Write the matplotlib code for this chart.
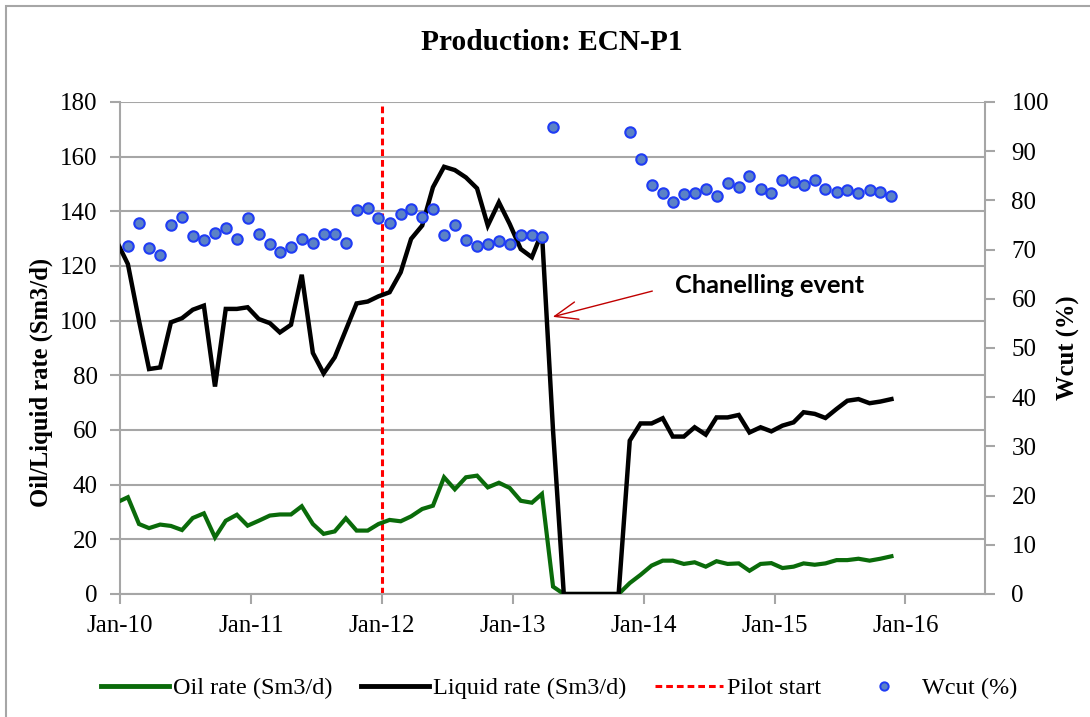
import numpy as np
import pandas as pd
import matplotlib
matplotlib.use("Agg")
import matplotlib.pyplot as plt
import matplotlib.dates as mdates
from matplotlib.lines import Line2D
from matplotlib.patches import Rectangle

# --- DATA (monthly, Dec-09 .. Nov-15) ---
dates = pd.date_range("2009-12-01", periods=72, freq="MS") + pd.Timedelta(days=22)

liquid_rate = [129.0,
               120.7, 100.0, 82.3, 82.9, 99.4, 100.9, 104.0, 105.5, 75.9, 104.3, 104.3, 104.9,
               100.6, 99.1, 95.7, 98.5, 116.8, 88.2, 80.7, 86.6, 96.6, 106.3, 107.0, 108.9,
               110.4, 117.7, 129.9, 134.8, 148.8, 156.3, 155.1, 152.4, 148.4, 134.8, 143.3, 135.4,
               126.2, 123.2, 132.3, 59.8, 0, 0, 0, 0, 0, 0,
               56.1, 62.4, 62.4, 64.3, 57.6, 57.6, 61.0, 58.3, 64.6, 64.6, 65.5, 59.1,
               61.0, 59.5, 61.6, 62.8, 66.5, 65.9, 64.4, 67.7, 70.7, 71.3, 69.8, 70.4, 71.3]

oil_rate = [33.5,
            35.4, 25.6, 24.1, 25.4, 24.9, 23.4, 27.8, 29.5, 20.7, 26.8, 29.0, 25.0,
            26.8, 28.7, 29.1, 29.1, 32.1, 25.6, 22.0, 22.9, 27.7, 23.2, 23.2, 25.6,
            27.1, 26.6, 28.4, 31.1, 32.3, 42.7, 38.3, 42.7, 43.3, 39.0, 40.7, 38.8,
            34.1, 33.4, 36.6, 2.7, 0, 0, 0, 0, 0, 0,
            4.0, 7.0, 10.4, 12.2, 12.2, 11.0, 11.6, 10.0, 12.0, 11.0, 11.2, 8.5,
            11.0, 11.3, 9.5, 10.0, 11.2, 10.7, 11.2, 12.4, 12.4, 12.9, 12.2, 12.9, 13.8]

nan = np.nan
wcut = [nan,
        70.7, 75.4, 70.3, 68.9, 74.9, 76.7, 72.7, 71.9, 73.4, 74.4, 72.1, 76.5,
        73.2, 71.1, 69.6, 70.6, 72.2, 71.4, 73.2, 73.2, 71.3, 78.1, 78.4, 76.5,
        75.4, 77.2, 78.2, 76.7, 78.2, 72.9, 75.1, 72.0, 70.8, 71.2, 71.7, 71.2,
        73.0, 73.0, 72.5, 94.9, nan, nan, nan, nan, nan, nan,
        94.0, 88.4, 83.1, 81.6, 79.7, 81.4, 81.6, 82.3, 80.9, 83.5, 82.7, 84.9,
        82.3, 81.5, 84.2, 83.8, 83.1, 84.1, 82.3, 81.8, 82.2, 81.5, 82.2, 81.7, 80.8]

pilot_start = pd.Timestamp("2012-01-01")
year_ticks = pd.date_range("2010-01-01", "2016-01-01", freq="YS")

# --- STYLE ---
plt.rcParams["font.family"] = ["Liberation Serif", "DejaVu Serif"]
grid_col = "#a6a6a6"
green = "#0a6b0a"
fs = 18

fig = plt.figure(figsize=(10.9, 7.17), dpi=100)
ax = fig.add_axes([120 / 1090, 1 - 594 / 717, 865 / 1090, 492 / 717])
ax2 = ax.twinx()

ax.plot(dates, oil_rate, color=green, lw=3, solid_joinstyle="miter", zorder=3)
ax.plot(dates, liquid_rate, color="black", lw=3.2, solid_joinstyle="miter", zorder=3)
ax.vlines(pilot_start, 0, 180, colors="#ff0000", linestyles=(0, (2.2, 1.3)), lw=2.2, zorder=2)
ax2.plot(dates, wcut, ls="none", marker="o", ms=7.5, mfc="#5b82c6", mec="#1f3cf5", mew=1.5)

ax.set_xlim(pd.Timestamp("2010-01-01"), pd.Timestamp("2016-08-10"))
ax.set_ylim(0, 180)
ax2.set_ylim(0, 100)
ax.set_yticks(np.arange(0, 181, 20))
ax2.set_yticks(np.arange(0, 101, 10))
ax.set_xticks(year_ticks)
ax.xaxis.set_major_formatter(mdates.DateFormatter("%b-%y"))

ax.grid(True, axis="y", color=grid_col, lw=1.5)
ax.set_axisbelow(True)
for a in (ax, ax2):
    for s in a.spines.values():
        s.set_visible(False)
ax.spines["left"].set_visible(True)
ax.spines["bottom"].set_visible(True)
ax2.spines["right"].set_visible(True)
for s in (ax.spines["left"], ax.spines["bottom"], ax2.spines["right"]):
    s.set_color(grid_col)
    s.set_linewidth(1.5)

ax.tick_params(axis="y", length=7, width=1.5, color=grid_col, labelsize=fs, pad=9)
ax.tick_params(axis="x", length=7, width=1.5, color=grid_col, labelsize=fs, pad=8)
ax2.tick_params(axis="y", length=7, width=1.5, color=grid_col, labelsize=fs, pad=12)

ax.set_ylabel("Oil/Liquid rate (Sm3/d)", fontsize=17.7, fontweight="bold")
ax.yaxis.set_label_coords(-0.077, 0.43)
ax2.set_ylabel("Wcut (%)", fontsize=17.7, fontweight="bold")
ax2.yaxis.set_label_coords(1.083, 0.5)

fig.text(552 / 1090, 1 - 42 / 717, "Production: ECN-P1", ha="center", va="center",
         fontsize=21.2, fontweight="bold")

ax.annotate("Chanelling event", xy=(pd.Timestamp("2013-04-22"), 101.4),
            xytext=(pd.Timestamp("2014-03-30"), 113), ha="left", va="center",
            fontsize=18.3, fontweight="bold", family="Lato",
            arrowprops=dict(arrowstyle="->,head_length=0.9,head_width=0.35", color="#c00000",
                            lw=1, relpos=(0, 0.5), shrinkA=15, shrinkB=0))

handles = [Line2D([], [], color=green, lw=3.5),
           Line2D([], [], color="black", lw=3.5),
           Line2D([], [], color="#ff0000", lw=2.2, ls=(0, (2.2, 1.3))),
           Line2D([], [], ls="none", marker="o", ms=6, mfc="#5b82c6", mec="#1f3cf5", mew=1.4)]
labels = ["Oil rate (Sm3/d)", "Liquid rate (Sm3/d)", "Pilot start", "Wcut (%)"]
fig.legend(handles, labels, loc="center", bbox_to_anchor=(0.513, 1 - 688 / 717), ncol=4,
           frameon=False, fontsize=17.5, handlelength=2.8, handletextpad=0.15,
           columnspacing=1.2)

fig.patches.append(Rectangle((6 / 1090, -0.05), 1.1, 1 - 6 / 717 + 0.05, transform=fig.transFigure,
                             fill=False, edgecolor=grid_col, lw=1.5))

fig.savefig("out.png", dpi=100)
